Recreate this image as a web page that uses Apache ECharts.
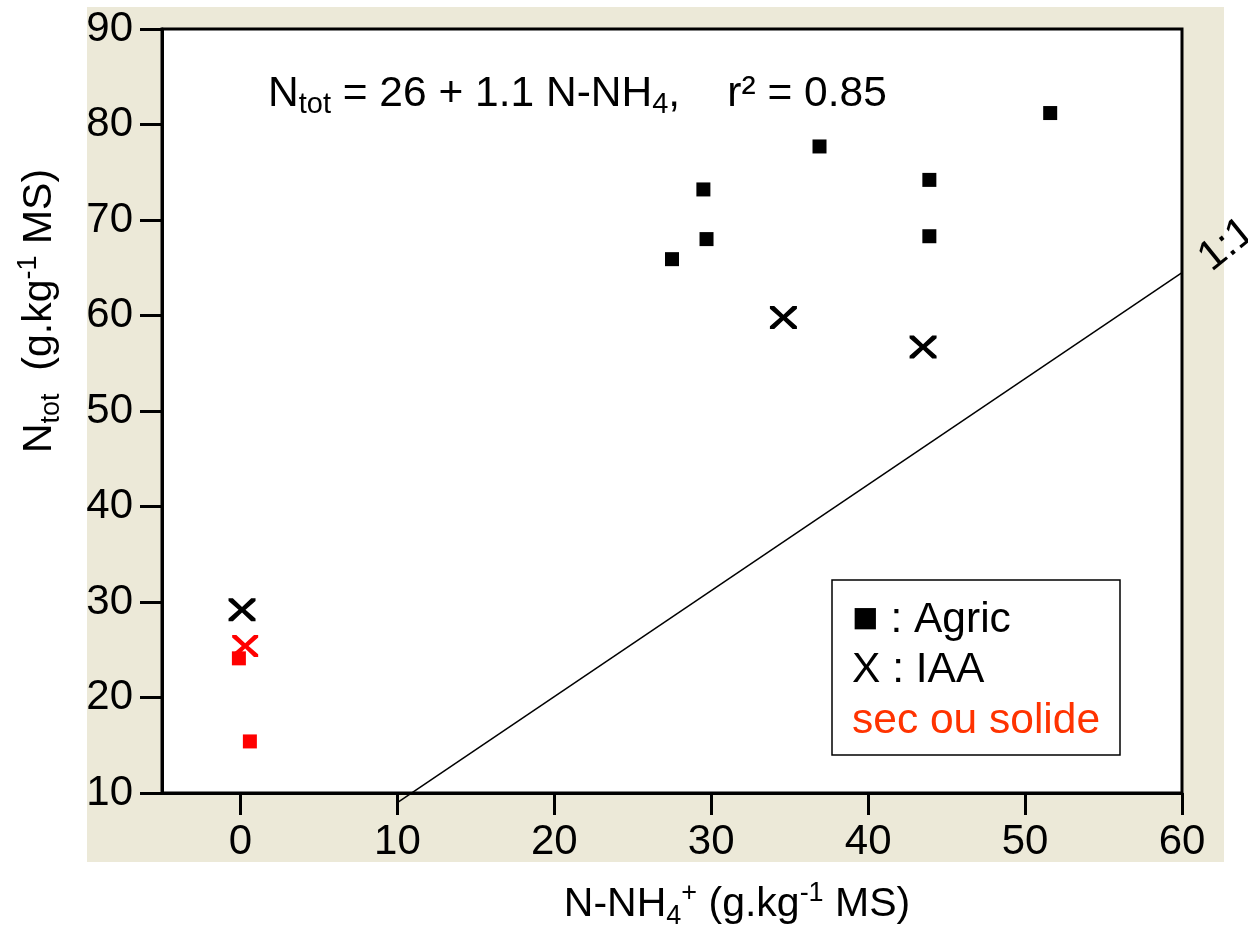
<!DOCTYPE html>
<html>
<head>
<meta charset="utf-8">
<script src="https://cdn.jsdelivr.net/npm/echarts@6/dist/echarts.min.js"></script>
<style>
  html, body { margin: 0; padding: 0; background: #fff; }
  #chart { width: 1248px; height: 929px; }
</style>
</head>
<body>
<div id="chart"></div>
<script>
// N-NH4+ (x) versus N total (y), g per kg of dry matter
const xTickValues = [0, 10, 20, 30, 40, 50, 60];
const agric = [[27.5, 65.9], [29.5, 73.2], [29.7, 68.0], [36.9, 77.7], [43.9, 74.2], [43.9, 68.3], [51.6, 81.2]];
const iaa = [[34.6, 59.8], [43.5, 56.7], [0.1, 29.2]];
const agricSec = [[-0.1, 24.1], [0.6, 15.4]];
const iaaSec = [[0.3, 25.4]];
const refLine = [[10, 9], [60, 64.5]];

const FONT = "'Liberation Sans', Arial, sans-serif";
const TICK_FONT = "'Liberation Sans Narrow', 'Arial Narrow', 'Liberation Sans', sans-serif";
const BEIGE = '#ece9d8';

// filled cross used as the IAA marker
const CROSS = 'path://M0,0 L16,0 L50,38 L84,0 L100,0 L100,12 L63,50 L100,88 L100,100 L84,100 L50,62 L16,100 L0,100 L0,88 L37,50 L0,12 Z';

// rich styles for axis names (ECharts text style keys)
const richAxis = {
  m: { fontSize: 41, lineHeight: 50, fontFamily: FONT, color: '#000' },
  b: { fontSize: 27, lineHeight: 20, verticalAlign: 'bottom', fontFamily: FONT, color: '#000' },
  p: { fontSize: 27, lineHeight: 40, verticalAlign: 'top', fontFamily: FONT, color: '#000' }
};
// rich styles for free text (zrender style keys)
const richText = {
  m: { fontSize: 42.5, lineHeight: 50, fontFamily: FONT, fill: '#000' },
  b: { fontSize: 29, lineHeight: 20, verticalAlign: 'bottom', fontFamily: FONT, fill: '#000' },
  q: { fontSize: 44, lineHeight: 50, fontFamily: FONT, fill: '#000' },
  r: { fontSize: 42.5, lineHeight: 50, fontFamily: FONT, fill: '#ff3300' }
};

const chart = echarts.init(document.getElementById('chart'));
chart.setOption({
  animation: false,
  backgroundColor: '#fff',
  grid: {
    left: 162, top: 29, width: 1020, height: 764,
    outerBoundsMode: 'none', containLabel: false,
    show: true, backgroundColor: '#fff', borderColor: '#000', borderWidth: 3
  },
  xAxis: {
    type: 'value', min: -5, max: 60,
    splitLine: { show: false },
    axisLine: { show: true, onZero: false, lineStyle: { color: '#000', width: 3 } },
    axisTick: { show: true, inside: false, length: 22, customValues: xTickValues, lineStyle: { color: '#000', width: 3 } },
    axisLabel: { customValues: xTickValues, margin: 28, fontSize: 42, fontFamily: TICK_FONT, color: '#000' },
    name: '{m|N-NH}{b|4}{p|+}{m| (g.kg}{p|-1}{m| MS)}',
    nameLocation: 'middle', nameGap: 87,
    nameTextStyle: { rich: richAxis, padding: [0, 0, 0, 130] }
  },
  yAxis: {
    type: 'value', min: 10, max: 90, interval: 10,
    splitLine: { show: false },
    axisLine: { show: true, onZero: false, lineStyle: { color: '#000', width: 3 } },
    axisTick: { show: true, inside: false, length: 22, lineStyle: { color: '#000', width: 3 } },
    axisLabel: { margin: 29, fontSize: 42, fontFamily: TICK_FONT, color: '#000' },
    name: '{m|N}{b|tot}{m|  (g.kg}{p|-1}{m| MS)}',
    nameLocation: 'middle', nameGap: 97,
    nameTextStyle: { rich: richAxis, padding: [0, 0, 0, 200] }
  },
  series: [
    {
      name: '1:1', type: 'line', data: refLine, symbol: 'none', clip: false, silent: true,
      lineStyle: { color: '#000', width: 1.5 }, z: 1
    },
    {
      name: 'Agric', type: 'scatter', data: agric, symbol: 'rect', symbolSize: 14,
      itemStyle: { color: '#000', opacity: 1 }
    },
    {
      name: 'IAA', type: 'scatter', data: iaa, symbol: CROSS, symbolSize: [27, 23],
      itemStyle: { color: '#000', opacity: 1 }
    },
    {
      name: 'Agric sec ou solide', type: 'scatter', data: agricSec, symbol: 'rect', symbolSize: 14,
      itemStyle: { color: '#ff0000', opacity: 1 }
    },
    {
      name: 'IAA sec ou solide', type: 'scatter', data: iaaSec, symbol: CROSS, symbolSize: [26, 22],
      itemStyle: { color: '#ff0000', opacity: 1 }
    }
  ],
  graphic: [
    { type: 'rect', z: -10, silent: true, shape: { x: 87, y: 7, width: 1137, height: 855 }, style: { fill: BEIGE } },
    {
      type: 'text', z: 100, x: 268, y: 94,
      style: { text: '{m|N}{b|tot}{m| = 26 + 1.1 N-NH}{b|4}{m|,    r² = 0.85}', rich: richText, align: 'left', verticalAlign: 'middle' }
    },
    {
      type: 'text', z: 100, x: 1227, y: 245, rotation: 39 * Math.PI / 180,
      style: { text: '1:1', fontSize: 42, fontFamily: FONT, fill: '#000', align: 'center', verticalAlign: 'middle' }
    },
    {
      type: 'rect', z: 100, shape: { x: 832, y: 580, width: 288, height: 175 },
      style: { fill: '#fff', stroke: '#000', lineWidth: 1.5 }
    },
    {
      type: 'text', z: 101, x: 852, y: 620,
      style: { text: '{q|■}{m| : Agric}', rich: richText, align: 'left', verticalAlign: 'middle' }
    },
    {
      type: 'text', z: 101, x: 852, y: 670,
      style: { text: '{m|X : IAA}', rich: richText, align: 'left', verticalAlign: 'middle' }
    },
    {
      type: 'text', z: 101, x: 852, y: 721,
      style: { text: '{r|sec ou solide}', rich: richText, align: 'left', verticalAlign: 'middle' }
    }
  ]
});
</script>
</body>
</html>
